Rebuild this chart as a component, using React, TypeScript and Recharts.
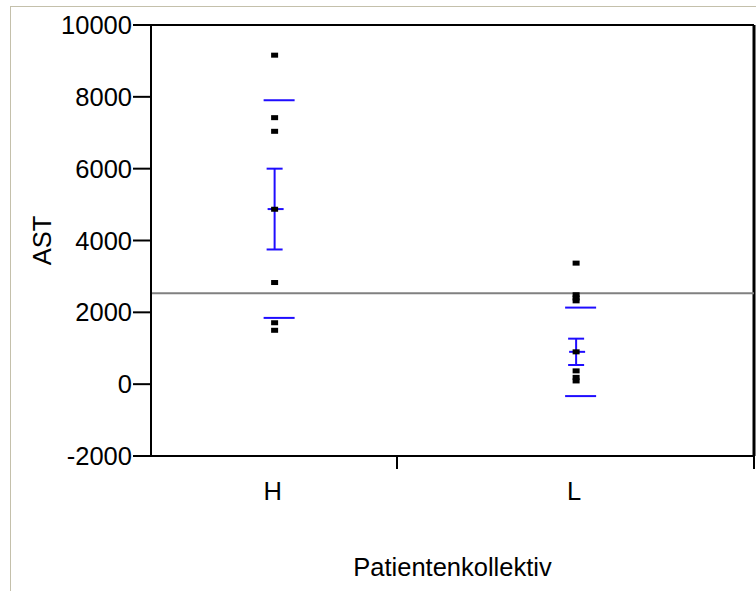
import {
  ScatterChart,
  Scatter,
  XAxis,
  YAxis,
  ErrorBar,
  ReferenceLine,
} from "recharts";

// groups on the x axis, placed on a 0..10 numeric scale
const categories = ["H", "L"];
const categoryPos = [2.05, 7.05];
const dividerTicks = [4.08, 10];

// individual AST values per group
const valuesH = [9160, 7420, 7040, 4870, 2830, 1710, 1500];
const valuesL = [3370, 2490, 2400, 2320, 900, 370, 190, 90];

// summary stats per group
const means = [4875, 900];
const sems = [1125, 367];
const sds = [3030, 1232];

const refValue = 2530;
const yTicks = [-2000, 0, 2000, 4000, 6000, 8000, 10000];

const BLUE = "#1f0dff";
const FONT = "'Liberation Sans', Arial, sans-serif";
const FS = 25.5;

const pointsData = [
  ...valuesH.map((y) => ({ x: categoryPos[0], y })),
  ...valuesL.map((y) => ({ x: categoryPos[1], y })),
];
const meanData = means.map((m, i) => ({ x: categoryPos[i], y: m, err: sems[i] }));
const sdData = means.flatMap((m, i) => [
  { x: categoryPos[i], y: m + sds[i] },
  { x: categoryPos[i], y: m - sds[i] },
]);

function Dot(props: any) {
  const { cx, cy } = props;
  return <rect x={cx - 3.5} y={cy - 2.5} width={7} height={5} fill="#000" />;
}

function MeanMark(props: any) {
  const { cx, cy } = props;
  return <line x1={cx - 7} x2={cx + 9} y1={cy} y2={cy} stroke={BLUE} strokeWidth={2} />;
}

function SdMark(props: any) {
  const { cx, cy } = props;
  return <line x1={cx - 11} x2={cx + 20} y1={cy} y2={cy} stroke={BLUE} strokeWidth={2} />;
}

function XTick(props: any) {
  const { x, y, payload } = props;
  const idx = categoryPos.indexOf(payload.value);
  if (idx >= 0) {
    return (
      <text x={x - 2} y={y + 44} textAnchor="middle" fontSize={FS} fontFamily={FONT} fill="#000">
        {categories[idx]}
      </text>
    );
  }
  return <line x1={x} x2={x} y1={y} y2={y + 13} stroke="#000" strokeWidth={2} />;
}

export default function App() {
  return (
    <div style={{ position: "absolute", left: 0, top: 0, width: 756, height: 591, background: "#fff" }}>
      <div
        style={{
          position: "absolute",
          left: 10,
          top: 6,
          right: 0,
          bottom: 0,
          borderLeft: "1px solid #c4c0ab",
          borderTop: "1px solid #c4c0ab",
        }}
      />
      <div style={{ position: "absolute", left: 0, top: 0 }}>
        <ScatterChart width={756} height={591} margin={{ top: 25, right: 2, left: 0, bottom: 0 }}>
          <XAxis
            type="number"
            dataKey="x"
            domain={[0, 10]}
            ticks={[...categoryPos, ...dividerTicks]}
            interval={0}
            height={135}
            axisLine={{ stroke: "#000", strokeWidth: 2 }}
            tickLine={false}
            tickSize={0}
            tickMargin={0}
            tick={<XTick />}
            label={{
              value: "Patientenkollektiv",
              position: "insideBottom",
              offset: 15,
              fontSize: FS,
              fontFamily: FONT,
              fill: "#000",
            }}
          />
          <YAxis
            type="number"
            dataKey="y"
            domain={[-2000, 10000]}
            ticks={yTicks}
            interval={0}
            width={151}
            axisLine={{ stroke: "#000", strokeWidth: 2 }}
            tickLine={{ stroke: "#000", strokeWidth: 2 }}
            tickSize={18}
            tickMargin={1}
            tick={{ fontSize: FS, fontFamily: FONT, fill: "#000" }}
            label={{
              value: "AST",
              angle: -90,
              position: "center",
              dx: -34,
              fontSize: FS,
              fontFamily: FONT,
              fill: "#000",
            }}
          />
          <ReferenceLine y={10000} stroke="#000" strokeWidth={2} />
          <ReferenceLine x={10} stroke="#000" strokeWidth={3} />
          <ReferenceLine y={refValue} stroke="#808080" strokeWidth={2} />
          <Scatter data={sdData} shape={<SdMark />} isAnimationActive={false} />
          <Scatter data={meanData} shape={<MeanMark />} isAnimationActive={false}>
            <ErrorBar dataKey="err" direction="y" width={8} stroke={BLUE} strokeWidth={2} />
          </Scatter>
          <Scatter data={pointsData} shape={<Dot />} isAnimationActive={false} />
        </ScatterChart>
      </div>
    </div>
  );
}
